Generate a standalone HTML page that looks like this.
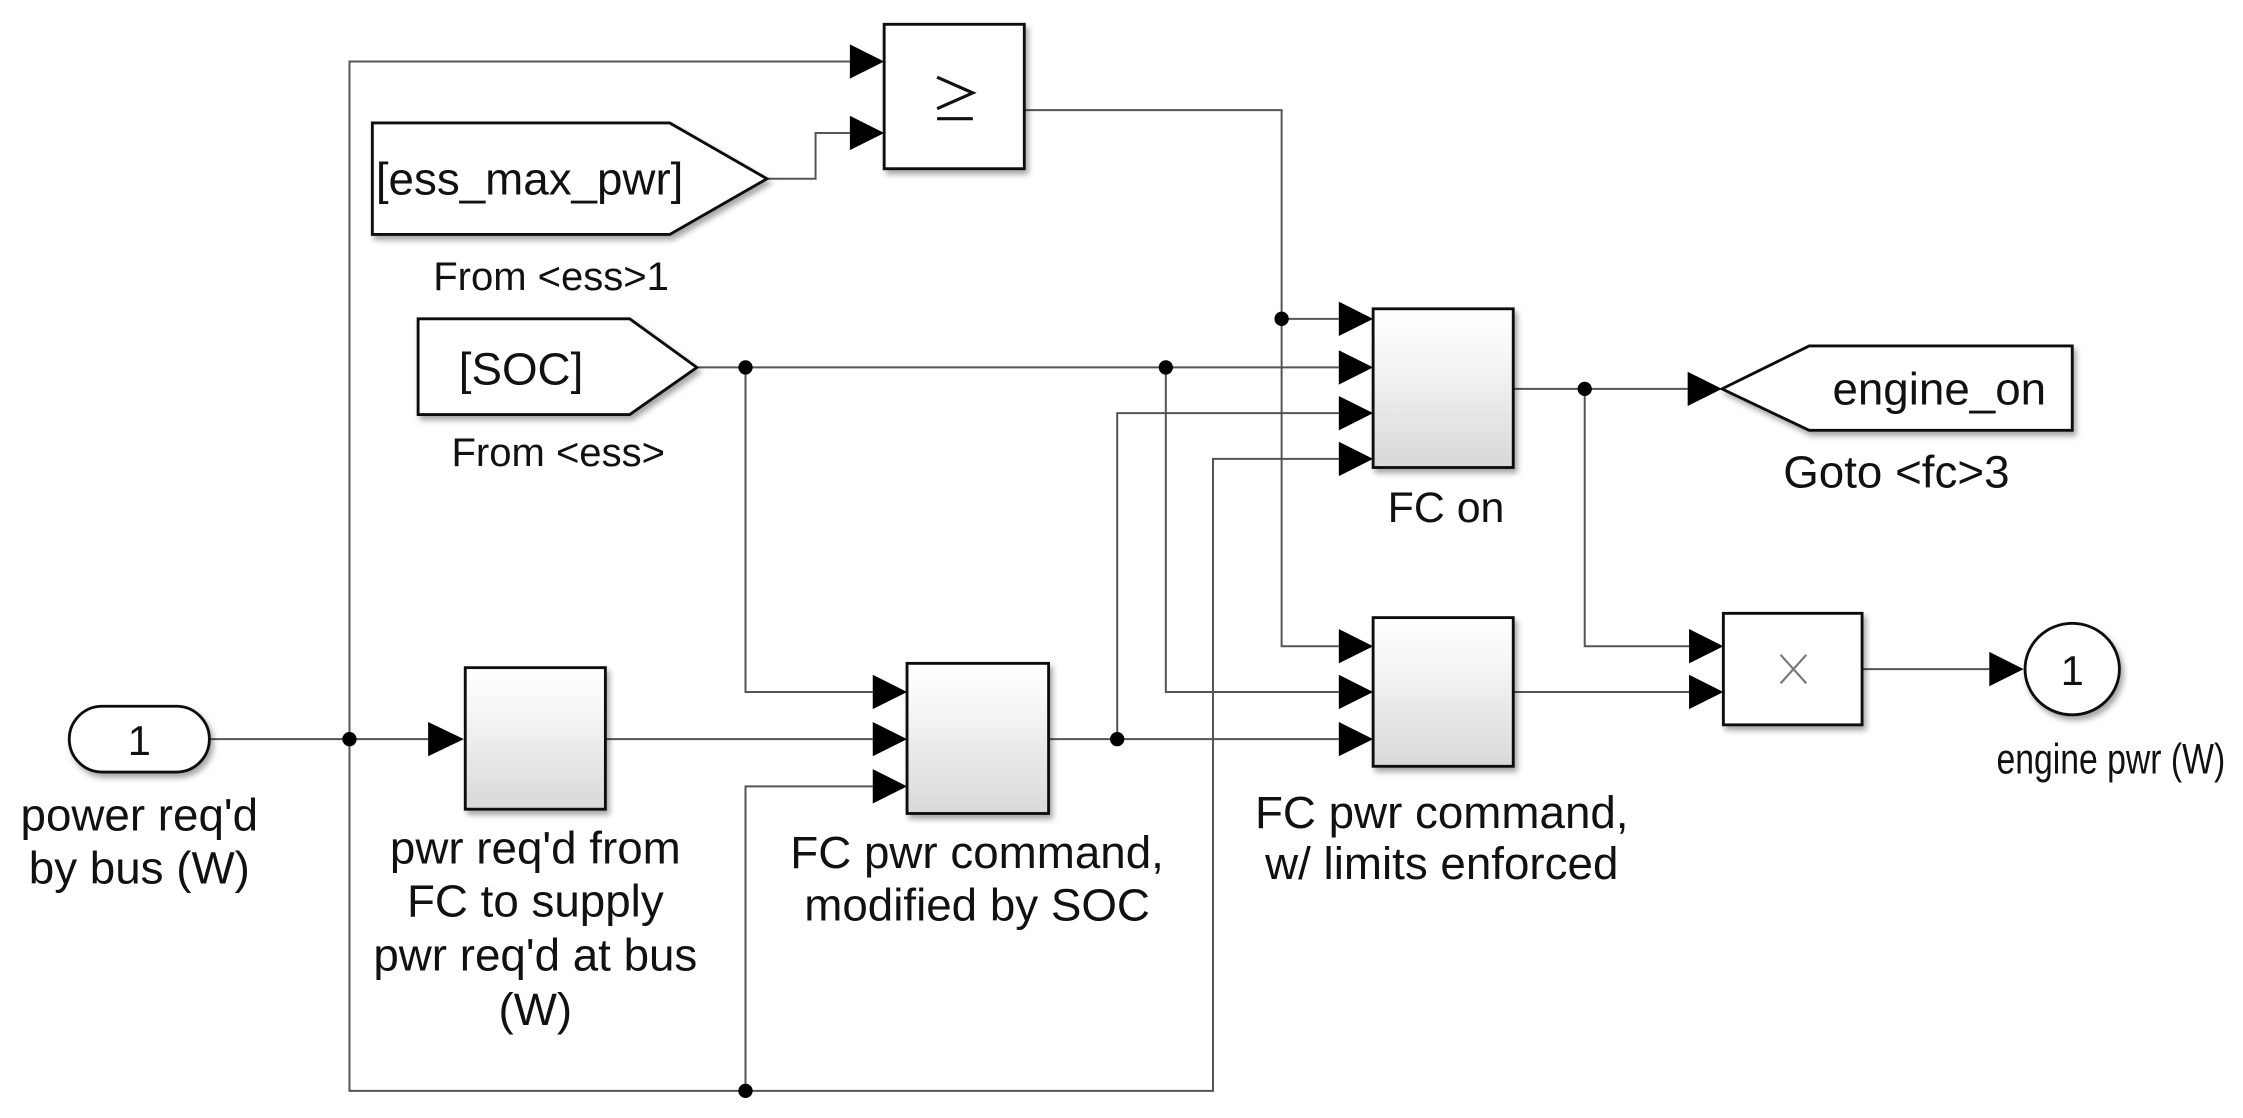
<!DOCTYPE html>
<html><head><meta charset="utf-8"><style>
html,body{margin:0;padding:0;background:#fff;}
svg{display:block;}
text{font-family:"Liberation Sans",Arial,sans-serif;fill:#111;}
</style></head><body>
<svg width="2243" height="1118" viewBox="0 0 1568 782" xmlns="http://www.w3.org/2000/svg">
<defs>
<linearGradient id="g" x1="0" y1="0" x2="0" y2="1">
<stop offset="0" stop-color="#ffffff"/><stop offset="0.3" stop-color="#f6f6f6"/><stop offset="1" stop-color="#d8d8d8"/>
</linearGradient>
<filter id="sh" x="-10%" y="-10%" width="130%" height="130%"><feDropShadow dx="2" dy="3" stdDeviation="2" flood-color="#000" flood-opacity="0.35"/></filter>
</defs>
<g fill="none" stroke="#555" stroke-width="1.4">
<polyline points="594,43 244,43 244,763 848,763 848,321 936,321"/>
<line x1="146" y1="517" x2="299" y2="517"/>
<line x1="423" y1="517" x2="610" y2="517"/>
<polyline points="536,125 570,125 570,93 594,93"/>
<polyline points="716,77 896,77 896,452 936,452"/>
<line x1="896" y1="223" x2="936" y2="223"/>
<line x1="488" y1="257" x2="936" y2="257"/>
<polyline points="521,257 521,484 610,484"/>
<polyline points="521,763 521,550 610,550"/>
<polyline points="815,257 815,484 936,484"/>
<line x1="733" y1="517" x2="936" y2="517"/>
<polyline points="781,517 781,289 936,289"/>
<line x1="1058" y1="272" x2="1180" y2="272"/>
<polyline points="1108,272 1108,452 1181,452"/>
<line x1="1058" y1="484" x2="1181" y2="484"/>
<line x1="1302" y1="468" x2="1391" y2="468"/>
</g>
<g fill="#000">
<circle cx="244" cy="517" r="5"/><circle cx="521" cy="257" r="5"/><circle cx="815" cy="257" r="5"/>
<circle cx="896" cy="223" r="5"/><circle cx="781" cy="517" r="5"/><circle cx="521" cy="763" r="5"/>
<circle cx="1108" cy="272" r="5"/>
</g>
<g fill="#000">
<polygon points="594,31 618,43 594,55"/><polygon points="594,81 618,93 594,105"/>
<polygon points="299,505 324,517 299,529"/>
<polygon points="610,472 634,484 610,496"/><polygon points="610,505 634,517 610,529"/><polygon points="610,538 634,550 610,562"/>
<polygon points="936,211 960,223 936,235"/><polygon points="936,245 960,257 936,269"/><polygon points="936,277 960,289 936,301"/><polygon points="936,309 960,321 936,333"/>
<polygon points="936,440 960,452 936,464"/><polygon points="936,472 960,484 936,496"/><polygon points="936,505 960,517 936,529"/>
<polygon points="1180,260 1204,272 1180,284"/>
<polygon points="1181,440 1205,452 1181,464"/><polygon points="1181,472 1205,484 1181,496"/>
<polygon points="1391,456 1415,468 1391,480"/>
</g>
<g stroke="#111" stroke-width="2" filter="url(#sh)">
<rect x="618" y="17" width="98" height="101" fill="#fff"/>
<polygon points="260,86 468,86 536,125 468,164 260,164" fill="#fff"/>
<polygon points="292,223 440,223 487,257 440,290 292,290" fill="#fff"/>
<rect x="48" y="494" width="98" height="46" rx="23" fill="#fff"/>
<rect x="325" y="467" width="98" height="99" fill="url(#g)"/>
<rect x="634" y="464" width="99" height="105" fill="url(#g)"/>
<rect x="960" y="216" width="98" height="111" fill="url(#g)"/>
<rect x="960" y="432" width="98" height="104" fill="url(#g)"/>
<rect x="1205" y="429" width="97" height="78" fill="#fff"/>
<polygon points="1204,272 1265,242 1449,242 1449,301 1265,301" fill="#fff"/>
<ellipse cx="1449" cy="468" rx="33" ry="32" fill="#fff"/>
</g>
<g stroke="#111" stroke-width="2.2" fill="none">
<polyline points="655,54 680,65 655,76"/>
<line x1="655" y1="83" x2="680" y2="83"/>
</g>
<g stroke="#777" stroke-width="1.5">
<line x1="1245" y1="458" x2="1263" y2="478"/><line x1="1263" y1="458" x2="1245" y2="478"/>
</g>
<g font-size="32" text-anchor="middle">
<text x="370" y="136">[ess_max_pwr]</text>
<text x="385" y="203" font-size="28">From &lt;ess&gt;1</text>
<text x="364" y="269">[SOC]</text>
<text x="390" y="326" font-size="28">From &lt;ess&gt;</text>
<text x="97" y="528" font-size="29">1</text>
<text x="97" y="581">power req'd</text>
<text x="97" y="618">by bus (W)</text>
<text x="374" y="604">pwr req'd from</text>
<text x="374" y="641">FC to supply</text>
<text x="374" y="679">pwr req'd at bus</text>
<text x="374" y="717">(W)</text>
<text x="683" y="607">FC pwr command,</text>
<text x="683" y="644">modified by SOC</text>
<text x="1011" y="365" font-size="30">FC on</text>
<text x="1356" y="283">engine_on</text>
<text x="1326" y="341">Goto &lt;fc&gt;3</text>
<text x="1008" y="579">FC pwr command,</text>
<text x="1008" y="615">w/ limits enforced</text>
<text x="1449" y="479" font-size="29">1</text>
<text x="1476" y="541" font-size="30" textLength="160" lengthAdjust="spacingAndGlyphs">engine pwr (W)</text>
</g>
</svg>
</body></html>
